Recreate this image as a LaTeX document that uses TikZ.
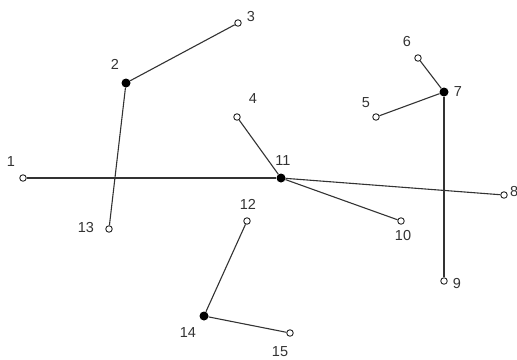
\documentclass[tikz,border=0pt]{standalone}
\usepackage{fontspec}
\setmainfont{Liberation Sans}
\begin{document}
\begin{tikzpicture}[x=1pt,y=-1pt,
  open/.style={circle,draw=black!85,fill=white,line width=0.9pt,inner sep=0pt,minimum size=6.5pt},
  full/.style={circle,fill=black,inner sep=0pt,minimum size=9pt},
  lbl/.style={font=\fontsize{14.5}{15}\selectfont,text=black!80,inner sep=0pt},
  edge/.style={draw=black!80,line width=1.1pt}]
\useasboundingbox (0,0) rectangle (517,359);
\node[open] (n1) at (23,178) {};
\node[full] (n2) at (126,83) {};
\node[open] (n3) at (238,23) {};
\node[open] (n4) at (237,117) {};
\node[open] (n5) at (376,117) {};
\node[open] (n6) at (418,58) {};
\node[full] (n7) at (444,92) {};
\node[open] (n8) at (504,195) {};
\node[open] (n9) at (444,281) {};
\node[open] (n10) at (401,221) {};
\node[full] (n11) at (281,178) {};
\node[open] (n12) at (247,221) {};
\node[open] (n13) at (109,229) {};
\node[full] (n14) at (204,316) {};
\node[open] (n15) at (290,333) {};
\draw[edge] (n2) -- (n3);
\draw[edge] (n2) -- (n13);
\draw[edge] (n1) -- (n11);
\draw[edge] (n11) -- (n4);
\draw[edge] (n11) -- (n8);
\draw[edge] (n11) -- (n10);
\draw[edge] (n7) -- (n6);
\draw[edge] (n7) -- (n5);
\draw[edge] (n7) -- (n9);
\draw[edge] (n14) -- (n12);
\draw[edge] (n14) -- (n15);
\node[lbl] (l1) at (11,162) {1};
\node[lbl] (l2) at (115,64) {2};
\node[lbl] (l3) at (251,17) {3};
\node[lbl] (l4) at (253,99) {4};
\node[lbl] (l5) at (366,103) {5};
\node[lbl] (l6) at (407,42) {6};
\node[lbl] (l7) at (458,92) {7};
\node[lbl,anchor=west] (l8) at (510,192) {8};
\node[lbl] (l9) at (457,284) {9};
\node[lbl] (l10) at (403,236) {10};
\node[lbl] (l11) at (283,161) {11};
\node[lbl] (l12) at (248,204) {12};
\node[lbl] (l13) at (86,228) {13};
\node[lbl] (l14) at (188,333) {14};
\node[lbl] (l15) at (280,352) {15};
\end{tikzpicture}
\end{document}
